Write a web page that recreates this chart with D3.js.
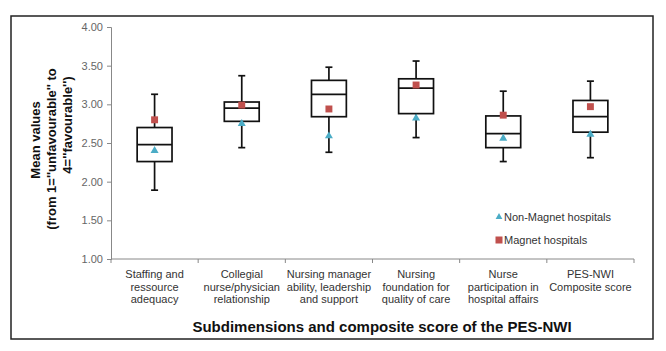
<!DOCTYPE html>
<html>
<head>
<meta charset="utf-8">
<script src="https://cdn.jsdelivr.net/npm/d3@7"></script>
<style>
  body { margin: 0; background: #fff; }
  svg { font-family: "Liberation Sans", Arial, sans-serif; }
</style>
</head>
<body>
<div id="chart"></div>
<script>
// chart size, same as the picture
const svgWidth = 666;
const svgHeight = 351;
const margin = { top: 27, right: 32, bottom: 92, left: 111 };
const width = svgWidth - margin.left - margin.right;
const height = svgHeight - margin.top - margin.bottom;

// data
const categories = [
    ["Staffing and", "ressource", "adequacy"],
    ["Collegial", "nurse/physician", "relationship"],
    ["Nursing manager", "ability, leadership", "and support"],
    ["Nursing", "foundation for", "quality of care"],
    ["Nurse", "participation in", "hospital affairs"],
    ["PES-NWI", "Composite score"]
];
const whiskerLow  = [1.89, 2.44, 2.38, 2.57, 2.26, 2.31];
const boxLow      = [2.26, 2.78, 2.84, 2.88, 2.44, 2.64];
const medians     = [2.48, 2.95, 3.13, 3.21, 2.62, 2.84];
const boxHigh     = [2.70, 3.03, 3.31, 3.33, 2.85, 3.05];
const whiskerHigh = [3.13, 3.37, 3.48, 3.56, 3.17, 3.30];
const magnet      = [2.80, 2.99, 2.94, 3.25, 2.86, 2.97];
const nonMagnet   = [2.40, 2.75, 2.59, 2.82, 2.56, 2.61];
const yTicks = [1.00, 1.50, 2.00, 2.50, 3.00, 3.50, 4.00];

const red = "#c0504d";
const teal = "#4bacc6";

const rootSvg = d3.select("#chart")
    .append("svg")
    .attr("width", svgWidth)
    .attr("height", svgHeight);

// outer frame round the whole chart
rootSvg.append("rect")
    .attr("x", 11)
    .attr("y", 16)
    .attr("width", 642)
    .attr("height", 323)
    .attr("fill", "none")
    .attr("stroke", "#222")
    .attr("stroke-width", 1.5);

const svg = rootSvg.append("g")
    .attr("transform", `translate(${margin.left},${margin.top})`);

const idx = d3.range(categories.length);

const x = d3.scaleBand()
    .domain(idx)
    .range([0, width]);

const y = d3.scaleLinear()
    .domain([1, 4])
    .range([height, 0]);

// y axis
const yAxis = svg.append("g")
    .attr("class", "axis")
    .call(d3.axisLeft(y).tickValues(yTicks).tickFormat(d3.format(".2f")).tickSize(4).tickPadding(4));
yAxis.selectAll("text").attr("font-size", "11px").attr("fill", "#666");

// x axis, ticks sit between the categories so draw them by hand from the band scale
const xAxis = svg.append("g")
    .attr("class", "axis")
    .attr("transform", `translate(0,${height})`);
xAxis.append("line")
    .attr("x1", 0).attr("x2", width)
    .attr("stroke", "#888");
xAxis.selectAll(".xtick")
    .data(d3.range(categories.length + 1))
    .enter()
    .append("line")
    .attr("x1", d => d * x.step())
    .attr("x2", d => d * x.step())
    .attr("y1", 0)
    .attr("y2", 4)
    .attr("stroke", "#888");

svg.selectAll(".axis path, .axis line").attr("stroke", "#888");

// category labels, several lines each
const labels = xAxis.selectAll(".cat")
    .data(idx)
    .enter()
    .append("text")
    .attr("text-anchor", "middle")
    .attr("font-size", "11px")
    .attr("fill", "#333")
    .attr("transform", d => `translate(${x(d) + x.bandwidth() / 2},19)`);
labels.selectAll("tspan")
    .data(d => categories[d])
    .enter()
    .append("tspan")
    .attr("x", 0)
    .attr("dy", (d, i) => i === 0 ? 0 : 12.5)
    .text(d => d);

// boxes
const boxW = x.bandwidth() * 0.4;
const capW = 7;
const boxes = svg.selectAll(".box")
    .data(idx)
    .enter()
    .append("g")
    .attr("transform", d => `translate(${x(d) + x.bandwidth() / 2},0)`);

boxes.append("line")
    .attr("y1", d => y(whiskerLow[d]))
    .attr("y2", d => y(boxLow[d]))
    .attr("stroke", "#111").attr("stroke-width", 1.7);
boxes.append("line")
    .attr("y1", d => y(boxHigh[d]))
    .attr("y2", d => y(whiskerHigh[d]))
    .attr("stroke", "#111").attr("stroke-width", 1.7);
boxes.append("line")
    .attr("x1", -capW / 2).attr("x2", capW / 2)
    .attr("y1", d => y(whiskerLow[d])).attr("y2", d => y(whiskerLow[d]))
    .attr("stroke", "#111").attr("stroke-width", 1.7);
boxes.append("line")
    .attr("x1", -capW / 2).attr("x2", capW / 2)
    .attr("y1", d => y(whiskerHigh[d])).attr("y2", d => y(whiskerHigh[d]))
    .attr("stroke", "#111").attr("stroke-width", 1.7);
boxes.append("rect")
    .attr("x", -boxW / 2)
    .attr("width", boxW)
    .attr("y", d => y(boxHigh[d]))
    .attr("height", d => y(boxLow[d]) - y(boxHigh[d]))
    .attr("fill", "#fff")
    .attr("stroke", "#111").attr("stroke-width", 1.7);
boxes.append("line")
    .attr("x1", -boxW / 2).attr("x2", boxW / 2)
    .attr("y1", d => y(medians[d])).attr("y2", d => y(medians[d]))
    .attr("stroke", "#111").attr("stroke-width", 1.7);

// means for the two hospital groups
const tri = d3.symbol().type(d3.symbolTriangle).size(28);
const sq = d3.symbol().type(d3.symbolSquare).size(48);
boxes.append("path")
    .attr("d", tri)
    .attr("transform", d => `translate(0,${y(nonMagnet[d])})`)
    .attr("fill", teal);
boxes.append("path")
    .attr("d", sq)
    .attr("transform", d => `translate(0,${y(magnet[d])})`)
    .attr("fill", red);

// legend
const legend = rootSvg.append("g").attr("transform", "translate(499,0)");
legend.append("path")
    .attr("d", d3.symbol().type(d3.symbolTriangle).size(20))
    .attr("transform", "translate(0,217)")
    .attr("fill", teal);
legend.append("text")
    .attr("x", 5).attr("y", 221)
    .attr("font-size", "11px").attr("fill", "#333")
    .text("Non-Magnet hospitals");
legend.append("rect")
    .attr("x", -3.5).attr("y", 236.5)
    .attr("width", 7).attr("height", 7)
    .attr("fill", red);
legend.append("text")
    .attr("x", 5).attr("y", 244)
    .attr("font-size", "11px").attr("fill", "#333")
    .text("Magnet hospitals");

// axis titles
rootSvg.append("text")
    .attr("x", 382)
    .attr("y", 332)
    .attr("text-anchor", "middle")
    .attr("font-size", "15px")
    .attr("font-weight", "bold")
    .attr("fill", "#111")
    .text("Subdimensions and composite score of the PES-NWI");

// y title lines are not all centred on the same point in the original
const yTitleLines = ["Mean values", "(from 1=''unfavourable'' to", "4=''favourable'')"];
const yTitleCentres = [140, 149, 125];
const yTitleBase = [40, 56, 72];
yTitleLines.forEach((t, i) => {
    rootSvg.append("text")
        .attr("transform", `translate(${yTitleBase[i]},${yTitleCentres[i]}) rotate(-90)`)
        .attr("text-anchor", "middle")
        .attr("font-size", "13px")
        .attr("font-weight", "bold")
        .attr("fill", "#111")
        .text(t);
});
</script>
</body>
</html>
